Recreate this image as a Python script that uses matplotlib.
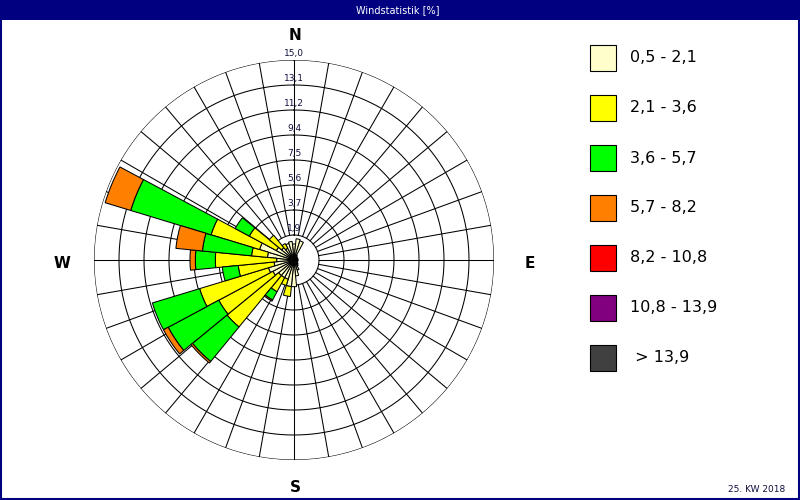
import numpy as np
import matplotlib
matplotlib.use("Agg")
import matplotlib.pyplot as plt
from matplotlib.patches import Rectangle

# 32 wind directions (degrees, clockwise from north)
directions = np.arange(32) * 11.25

speed_classes = ["0,5 - 2,1", "2,1 - 3,6", "3,6 - 5,7", "5,7 - 8,2",
                 "8,2 - 10,8", "10,8 - 13,9", " > 13,9"]
class_colors = ["#FFFFCC", "#FFFF00", "#00FF00", "#FF8000",
                "#FF0000", "#800080", "#404040"]

# frequency [%] per direction and speed class
v_05_21 = [1.2, 1.6, 1.5, 0.4, 0.3, 0.3, 0.3, 0.3, 0.3, 0.3, 0.3, 0.3, 0.4, 0.5, 0.8, 1.2,
           2.0, 2.0, 1.5, 1.5, 1.5, 1.8, 2.0, 1.5, 1.3, 2.0, 2.7, 1.5, 1.2, 1.0, 1.3, 1.4]
v_21_36 = [0, 0, 0, 0, 0, 0, 0, 0, 0, 0, 0, 0, 0, 0, 0, 0,
           0, 0.75, 0.5, 1.2, 5.0, 4.6, 5.4, 2.7, 4.6, 1.2, 3.8, 2.3, 1.2, 0.4, 0, 0]
v_36_57 = [0, 0, 0, 0, 0, 0, 0, 0, 0, 0, 0, 0, 0, 0, 0, 0,
           0, 0, 0, 0.7, 3.35, 4.3, 3.7, 1.2, 1.5, 3.7, 6.3, 1.2, 0, 0, 0, 0]
v_57_82 = [0, 0, 0, 0, 0, 0, 0, 0, 0, 0, 0, 0, 0, 0, 0, 0,
           0, 0, 0, 0.1, 0.15, 0.4, 0, 0, 0.4, 2.0, 2.0, 0, 0, 0, 0, 0]
v_82_108 = [0] * 32
v_108_139 = [0] * 32
v_139 = [0] * 32

ring_labels = ["1,9", "3,7", "5,6", "7,5", "9,4", "11,2", "13,1", "15,0"]
r_max = 15.0

navy = "#000080"

fig = plt.figure(figsize=(8, 5), dpi=100)
fig.patch.set_facecolor("white")

# title bar and frame
fig.patches.append(Rectangle((0, 0.96), 1, 0.04, transform=fig.transFigure,
                             facecolor=navy, edgecolor="none", zorder=0))
fig.patches.append(Rectangle((0.001, 0.002), 0.998, 0.97, transform=fig.transFigure,
                             facecolor="none", edgecolor=navy, linewidth=1.5, zorder=0))
fig.text(0.497, 0.98, "Windstatistik [%]", color="white", fontsize=7,
         ha="center", va="center")

ax = fig.add_axes([94 / 800, 40 / 500, 400 / 800, 400 / 500], projection="polar")
ax.set_theta_zero_location("N")
ax.set_theta_direction(-1)
ax.set_ylim(0, r_max)
ax.grid(False)
ax.set_xticks([])
ax.set_yticks([])
ax.spines["polar"].set_visible(False)

# grid: rings and 10 degree spokes
step = r_max / len(ring_labels)
full = np.linspace(0, 2 * np.pi, 361)
for k in range(1, len(ring_labels) + 1):
    ax.plot(full, np.full_like(full, k * step), color="black", lw=0.75, zorder=1)
for a in range(0, 360, 10):
    ax.plot([np.deg2rad(a)] * 2, [step, r_max], color="black", lw=0.75, zorder=1)

# stacked bars
layers = [v_05_21, v_21_36, v_36_57, v_57_82, v_82_108, v_108_139, v_139]
theta = np.deg2rad(directions)
width = np.deg2rad(11.25)
bottom = np.zeros(len(directions))
for vals, col in zip(layers, class_colors):
    vals = np.asarray(vals, dtype=float)
    m = vals > 0
    if m.any():
        ax.bar(theta[m], vals[m], width=width, bottom=bottom[m], color=col,
               edgecolor="black", linewidth=0.75, align="center", zorder=3)
    bottom += vals

# ring labels along the north axis
for k, lab in enumerate(ring_labels, start=1):
    ax.annotate(lab, xy=(0, k * step), xytext=(0, 1.5), textcoords="offset points",
                ha="center", va="bottom", fontsize=6.5, color="#101040", zorder=5)

# compass letters
for lab, x, y in [("N", 295, 35), ("S", 295, 488), ("W", 62, 263), ("E", 530, 263)]:
    fig.text(x / 800, 1 - y / 500, lab, fontsize=11, fontweight="bold",
             ha="center", va="center", color="black")

# legend
for i, (lab, col) in enumerate(zip(speed_classes, class_colors)):
    yc = 58 + i * 50
    fig.patches.append(Rectangle((590 / 800, 1 - (yc + 13) / 500), 26 / 800, 26 / 500,
                                 transform=fig.transFigure, facecolor=col,
                                 edgecolor="black", linewidth=0.8))
    fig.text(630 / 800, 1 - yc / 500, lab, fontsize=11.5, ha="left", va="center",
             color="black")

fig.text(785 / 800, 1 - 489 / 500, "25. KW 2018", fontsize=6.5, ha="right",
         va="center", color="#101040")

fig.savefig("out.png", dpi=100)
